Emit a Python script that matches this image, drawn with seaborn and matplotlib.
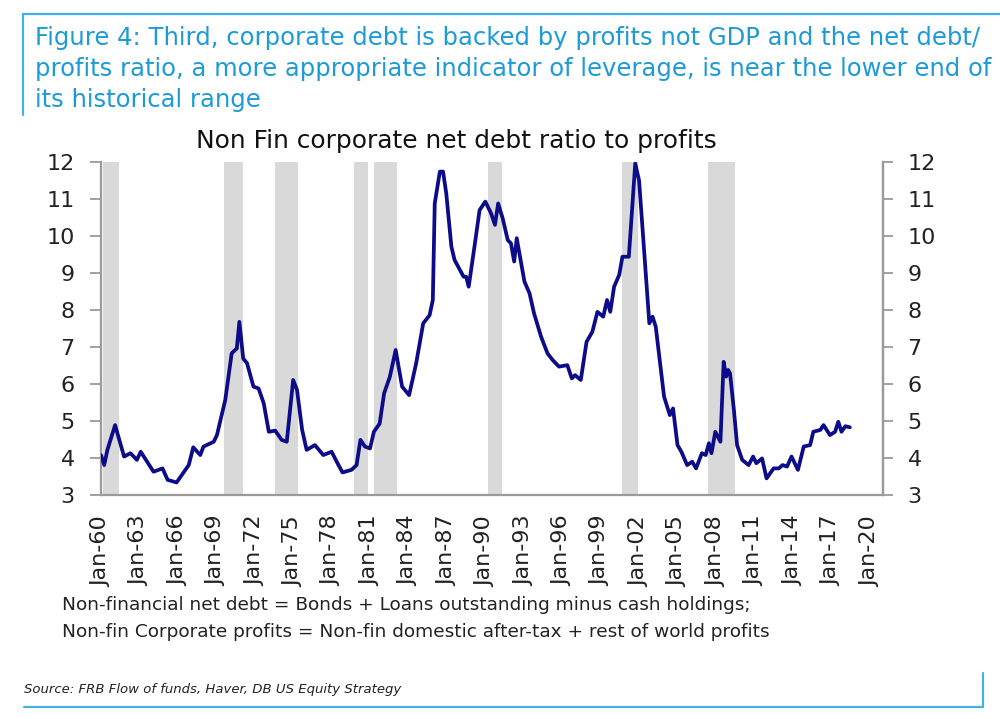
import numpy as np
import pandas as pd
import matplotlib.pyplot as plt
import seaborn as sns
from matplotlib.lines import Line2D

# values (decimal year, ratio)
years = [1960.0, 1960.25, 1960.5, 1961.1, 1961.8, 1962.3, 1962.8, 1963.1, 1963.6, 1964.1,
         1964.8, 1965.2, 1965.9, 1966.85, 1967.2, 1967.75, 1968.0, 1968.8, 1969.05, 1969.7,
         1970.2, 1970.6, 1970.8, 1971.1, 1971.4, 1971.9, 1972.3, 1972.7, 1973.1, 1973.6,
         1974.1, 1974.5, 1975.0, 1975.3, 1975.7, 1976.05, 1976.7, 1977.35, 1978.0, 1978.4,
         1978.85, 1979.55, 1979.95, 1980.25, 1980.6, 1981.0, 1981.3, 1981.75, 1982.1, 1982.55,
         1983.0, 1983.5, 1984.05, 1984.6, 1985.15, 1985.65, 1985.9, 1986.05, 1986.45, 1986.7,
         1986.95, 1987.35, 1987.6, 1988.3, 1988.5, 1988.7, 1989.15, 1989.55, 1990.0, 1990.45,
         1990.75, 1991.0, 1991.35, 1991.75, 1992.0, 1992.25, 1992.45, 1993.05, 1993.45, 1993.8,
         1994.35, 1994.85, 1995.25, 1995.75, 1996.4, 1996.75, 1997.0, 1997.45, 1997.9, 1998.35,
         1998.75, 1999.2, 1999.5, 1999.75, 2000.05, 2000.45, 2000.7, 2001.2, 2001.7, 2002.0,
         2002.8, 2003.05, 2003.3, 2003.95, 2004.4, 2004.65, 2005.0, 2005.3, 2005.75, 2006.15,
         2006.45, 2006.9, 2007.2, 2007.45, 2007.65, 2007.95, 2008.35, 2008.6, 2008.8, 2008.95,
         2009.1, 2009.4, 2009.65, 2010.05, 2010.55, 2010.9, 2011.15, 2011.6, 2011.95, 2012.5,
         2012.9, 2013.2, 2013.55, 2013.9, 2014.4, 2014.85, 2015.35, 2015.6, 2016.15, 2016.4,
         2016.9, 2017.3, 2017.55, 2017.8, 2018.1, 2018.45]
ratio = [4.08, 3.81, 4.22, 4.89, 4.04, 4.13, 3.95, 4.17, 3.90, 3.63,
         3.72, 3.41, 3.34, 3.81, 4.29, 4.08, 4.31, 4.44, 4.62, 5.57,
         6.83, 6.96, 7.68, 6.69, 6.56, 5.93, 5.88, 5.48, 4.71, 4.74,
         4.49, 4.44, 6.11, 5.84, 4.76, 4.22, 4.35, 4.08, 4.17, 3.90,
         3.61, 3.68, 3.81, 4.49, 4.31, 4.26, 4.71, 4.93, 5.75, 6.20,
         6.92, 5.93, 5.70, 6.56, 7.64, 7.86, 8.27, 10.88, 11.74, 11.74,
         11.15, 9.71, 9.35, 8.90, 8.90, 8.63, 9.71, 10.70, 10.93, 10.61,
         10.30, 10.88, 10.48, 9.89, 9.80, 9.31, 9.94, 8.77, 8.45, 7.91,
         7.28, 6.83, 6.65, 6.47, 6.51, 6.15, 6.24, 6.11, 7.14, 7.41,
         7.95, 7.82, 8.27, 7.95, 8.63, 8.95, 9.44, 9.44, 11.96, 11.50,
         7.64, 7.82, 7.55, 5.66, 5.16, 5.34, 4.35, 4.17, 3.81, 3.90,
         3.72, 4.13, 4.08, 4.40, 4.13, 4.71, 4.44, 6.60, 6.20, 6.38,
         6.29, 5.30, 4.35, 3.95, 3.81, 4.04, 3.86, 3.99, 3.45, 3.72,
         3.72, 3.81, 3.77, 4.04, 3.68, 4.31, 4.35, 4.71, 4.76, 4.89,
         4.62, 4.71, 4.98, 4.71, 4.86, 4.83]

# recession shading (start, end) in decimal years
rec_start = [1960.15, 1969.6, 1973.55, 1979.75, 1981.3, 1990.2, 2000.65, 2007.4]
rec_end = [1961.4, 1971.05, 1975.35, 1980.85, 1983.1, 1991.3, 2001.95, 2009.45]

tick_years = list(range(1960, 2021, 3))
tick_labels = [f"Jan-{y % 100:02d}" for y in tick_years]

header = ["Figure 4: Third, corporate debt is backed by profits not GDP and the net debt/",
          "profits ratio, a more appropriate indicator of leverage, is near the lower end of",
          "its historical range"]
notes = ["Non-financial net debt = Bonds + Loans outstanding minus cash holdings;",
         "Non-fin Corporate profits = Non-fin domestic after-tax + rest of world profits"]

df = pd.DataFrame({"year": years, "ratio": ratio})

sns.set_style("white")
plt.rcParams["font.family"] = ["DejaVu Sans"]

fig = plt.figure(figsize=(10, 7.19), dpi=100)
ax = fig.add_axes([0.101, 0.3115, 0.7815, 0.4632])

for s, e in zip(rec_start, rec_end):
    ax.axvspan(s, e, color="#d9d9d9", lw=0, zorder=0)

sns.lineplot(data=df, x="year", y="ratio", ax=ax, color="#0c0c8a", lw=2.7, zorder=3)

gray = "#9a9a9a"
ax.set_xlim(1960, 2021.0)
ax.set_ylim(3, 12)
ax.set_yticks(range(3, 13))
ax.set_xticks(tick_years)
ax.set_xticklabels(tick_labels)
ax.set_xlabel("")
ax.set_ylabel("")
ax.tick_params(axis="y", labelsize=16, length=8, width=1.3, color=gray,
               labelcolor="#222222", pad=11)
ax.tick_params(axis="x", labelsize=16, length=7, width=1.3, color=gray,
               labelcolor="#222222", pad=8, labelrotation=90)

ax.spines["top"].set_visible(False)
for side in ["left", "bottom", "right"]:
    ax.spines[side].set_color(gray)
    ax.spines[side].set_linewidth(1.6)

ax2 = ax.twinx()
ax2.set_ylim(3, 12)
ax2.set_yticks(range(3, 13))
ax2.tick_params(axis="y", labelsize=16, length=7, width=1.3, color=gray,
                labelcolor="#222222", pad=11)
ax2.spines["top"].set_visible(False)
ax2.spines["left"].set_visible(False)
ax2.spines["bottom"].set_visible(False)
ax2.spines["right"].set_color(gray)
ax2.spines["right"].set_linewidth(1.6)

fig.text(0.456, 1 - 148 / 719, "Non Fin corporate net debt ratio to profits", fontsize=17.9,
         color="#111111", ha="center", va="baseline")

blue = "#1d9bd7"
for txt, yb in zip(header, [45, 76, 107]):
    fig.text(0.035, 1 - yb / 719, txt, color=blue, fontsize=17.5, va="baseline")

for txt, yb in zip(notes, [610, 637]):
    fig.text(0.062, 1 - yb / 719, txt, fontsize=13.3, color="#222222", va="baseline")

fig.text(0.024, 1 - 693 / 719, "Source: FRB Flow of funds, Haver, DB US Equity Strategy",
         fontsize=9.5, style="italic", color="#222222", va="baseline")

# frame lines of the report figure
line_blue = "#45b0e6"
fig.add_artist(Line2D([0.023, 1.0], [0.9805, 0.9805], color=line_blue, lw=1.6))
fig.add_artist(Line2D([0.023, 0.023], [0.9805, 0.84], color=line_blue, lw=1.6))
fig.add_artist(Line2D([0.024, 0.983], [0.0167, 0.0167], color=line_blue, lw=1.6))
fig.add_artist(Line2D([0.983, 0.983], [0.0167, 0.064], color=line_blue, lw=1.6))

fig.savefig("out.png", dpi=100)
